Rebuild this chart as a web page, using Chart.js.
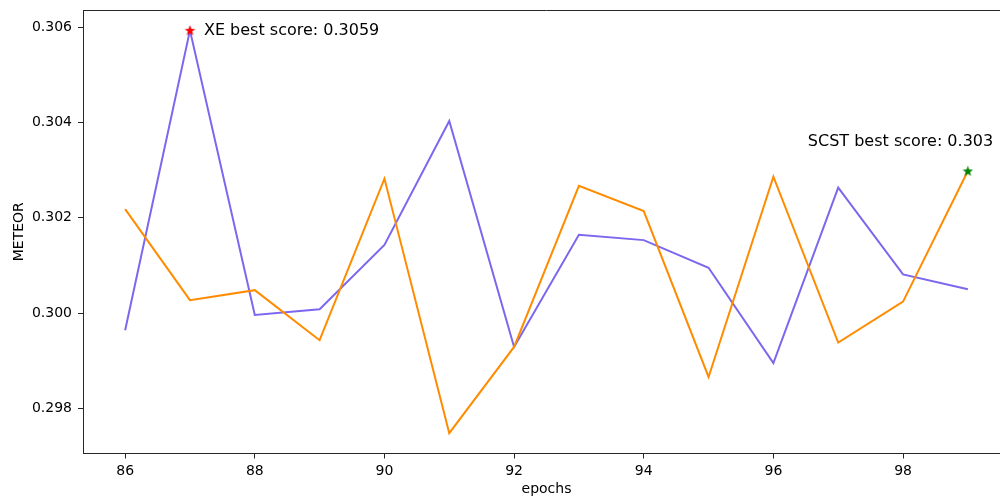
<!DOCTYPE html>
<html>
<head>
<meta charset="utf-8">
<title>METEOR per epoch</title>
<script src="https://cdn.jsdelivr.net/npm/chart.js@4/dist/chart.umd.min.js"></script>
<style>
  html, body { margin: 0; padding: 0; background: #ffffff; overflow: hidden; }
  #wrap { position: absolute; left: 0; top: 0; width: 1017px; height: 497px; }
</style>
</head>
<body>
<div id="wrap"><canvas id="chart" width="1017" height="497"></canvas></div>
<script>
// Epochs on the x axis
const epochs = [86, 87, 88, 89, 90, 91, 92, 93, 94, 95, 96, 97, 98, 99];

// METEOR per epoch, cross-entropy training
const xeMeteor = [0.29964, 0.30593, 0.29996, 0.30008, 0.30143, 0.30403, 0.29929,
                  0.30164, 0.30153, 0.30095, 0.29895, 0.30263, 0.30081, 0.30050];

// METEOR per epoch, self-critical sequence training
const scstMeteor = [0.30218, 0.30027, 0.30048, 0.29943, 0.30282, 0.29748, 0.29929,
                    0.30267, 0.30214, 0.29866, 0.30286, 0.29938, 0.30024, 0.30298];

// Tick values
const xTickValues = [86, 88, 90, 92, 94, 96, 98];
const yTickValues = [0.298, 0.300, 0.302, 0.304, 0.306];

const FONT = "'DejaVu Sans', sans-serif";
const SPINE = '#262626';

function bestOf(values) {
  let idx = 0;
  values.forEach((v, i) => { if (v > values[idx]) idx = i; });
  return { x: epochs[idx], y: values[idx] };
}
const xeBest = bestOf(xeMeteor);
const scstBest = bestOf(scstMeteor);
const fmt = v => String(parseFloat(v.toFixed(4)));

// Filled five-pointed star used as a point marker
function starImage(color) {
  const c = document.createElement('canvas');
  c.width = 13; c.height = 13;
  const g = c.getContext('2d');
  const R = 5.6, r = 2.3, cx = 6.5, cy = 6.9;
  g.beginPath();
  for (let i = 0; i < 10; i++) {
    const rad = i % 2 === 0 ? R : r;
    const a = -Math.PI / 2 + i * Math.PI / 5;
    const px = cx + rad * Math.cos(a), py = cy + rad * Math.sin(a);
    if (i === 0) g.moveTo(px, py); else g.lineTo(px, py);
  }
  g.closePath();
  g.fillStyle = color;
  g.fill();
  return c;
}

// Top frame line and the two best-score captions
const frameAndNotes = {
  id: 'frameAndNotes',
  afterDatasetsDraw(chart) {
    const { ctx, chartArea, scales } = chart;
    ctx.save();
    ctx.strokeStyle = SPINE;
    ctx.lineWidth = 1;
    ctx.beginPath();
    ctx.moveTo(chartArea.left, chartArea.top + 0.5);
    ctx.lineTo(chartArea.right, chartArea.top + 0.5);
    ctx.stroke();

    ctx.fillStyle = '#000000';
    ctx.font = '16px ' + FONT;
    ctx.textBaseline = 'middle';
    ctx.textAlign = 'left';
    const xx = scales.x.getPixelForValue(xeBest.x);
    const xy = scales.y.getPixelForValue(xeBest.y);
    ctx.fillText('XE best score: ' + fmt(xeBest.y), xx + 14, xy);
    const sx = scales.x.getPixelForValue(scstBest.x);
    const sy = scales.y.getPixelForValue(scstBest.y);
    ctx.fillText('SCST best score: ' + fmt(scstBest.y), sx - 160, sy - 29);
    ctx.restore();
  }
};

const toPoints = vals => vals.map((v, i) => ({ x: epochs[i], y: v }));

new Chart(document.getElementById('chart'), {
  type: 'line',
  data: {
    datasets: [
      {
        label: 'XE best',
        data: [xeBest],
        showLine: false,
        pointStyle: starImage('#ff0000'),
        pointRadius: 6,
        order: 0
      },
      {
        label: 'SCST best',
        data: [scstBest],
        showLine: false,
        pointStyle: starImage('#008000'),
        pointRadius: 6,
        order: 0
      },
      {
        label: 'SCST',
        data: toPoints(scstMeteor),
        borderColor: '#ff8c00',
        borderWidth: 2,
        pointRadius: 0,
        tension: 0,
        order: 1
      },
      {
        label: 'XE',
        data: toPoints(xeMeteor),
        borderColor: '#7b68ee',
        borderWidth: 2,
        pointRadius: 0,
        tension: 0,
        order: 2
      }
    ]
  },
  options: {
    responsive: false,
    animation: false,
    devicePixelRatio: 1,
    layout: { padding: { top: 10, left: 0, right: 0, bottom: 0 } },
    plugins: { legend: { display: false }, tooltip: { enabled: false } },
    scales: {
      x: {
        type: 'linear',
        min: 85.35,
        max: 99.65,
        afterBuildTicks: s => { s.ticks = xTickValues.map(v => ({ value: v })); },
        afterFit: s => { s.height = 43.5; s.paddingLeft = 0; s.paddingRight = 0; },
        ticks: {
          color: '#000000',
          font: { family: FONT, size: 14 },
          padding: 4.5,
          maxRotation: 0,
          callback: v => String(v)
        },
        grid: { drawOnChartArea: false, drawTicks: true, tickLength: 5, color: SPINE, tickWidth: 1 },
        border: { display: true, color: SPINE, width: 1 },
        title: {
          display: true,
          text: 'epochs',
          color: '#000000',
          font: { family: FONT, size: 14, lineHeight: 1.05 },
          padding: { top: 0, bottom: 0 }
        }
      },
      y: {
        type: 'linear',
        min: 0.297054,
        max: 0.306357,
        afterBuildTicks: s => { s.ticks = yTickValues.map(v => ({ value: v })); },
        afterFit: s => { s.width = 83; s.paddingTop = 0; s.paddingBottom = 0; },
        ticks: {
          color: '#000000',
          font: { family: FONT, size: 14 },
          padding: 6,
          callback: v => Number(v).toFixed(3)
        },
        grid: { drawOnChartArea: false, drawTicks: true, tickLength: 5, color: SPINE, tickWidth: 1 },
        border: { display: true, color: SPINE, width: 1 },
        title: {
          display: true,
          text: 'METEOR',
          color: '#000000',
          font: { family: FONT, size: 14 },
          padding: { top: 10.5, bottom: 0 }
        }
      }
    }
  },
  plugins: [frameAndNotes]
});
</script>
</body>
</html>
